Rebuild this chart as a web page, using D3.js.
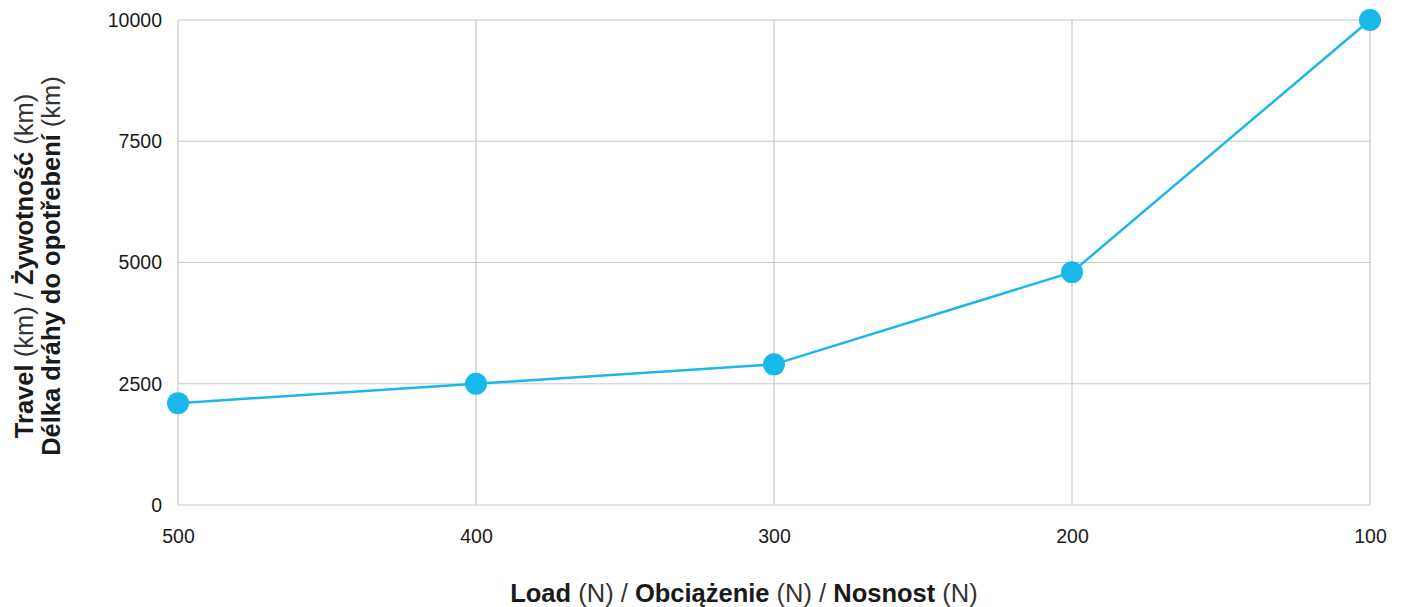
<!DOCTYPE html>
<html>
<head>
<meta charset="utf-8">
<script src="https://cdn.jsdelivr.net/npm/d3@7"></script>
<style>
  body { margin: 0; background: #fff; }
  svg { font-family: "Liberation Sans", Arial, sans-serif; }
</style>
</head>
<body>
<svg id="chart" width="1403" height="607"></svg>
<script>
// dane
const loads = ["500", "400", "300", "200", "100"];
const travel = [2100, 2500, 2900, 4800, 10000];
const yTicks = [0, 2500, 5000, 7500, 10000];

const W = 1403, H = 607;
const margin = { top: 20, right: 33, bottom: 102, left: 178 };
const innerW = W - margin.left - margin.right;
const innerH = H - margin.top - margin.bottom;

const svg = d3.select("#chart");
const g = svg.append("g").attr("transform", `translate(${margin.left},${margin.top})`);

const x = d3.scalePoint().domain(loads).range([0, innerW]);
const y = d3.scaleLinear().domain([0, 10000]).range([innerH, 0]);

// siatka
g.append("g")
  .selectAll("line").data(yTicks).enter().append("line")
  .attr("x1", 0).attr("x2", innerW)
  .attr("y1", d => y(d)).attr("y2", d => y(d))
  .attr("stroke", "#c8c8c8").attr("stroke-width", 1.2);

g.append("g")
  .selectAll("line").data(loads).enter().append("line")
  .attr("x1", d => x(d)).attr("x2", d => x(d))
  .attr("y1", 0).attr("y2", innerH)
  .attr("stroke", "#c8c8c8").attr("stroke-width", 1.2);

// osie
const xAxis = g.append("g")
  .attr("transform", `translate(0,${innerH})`)
  .call(d3.axisBottom(x).tickSize(0).tickPadding(24));
xAxis.select(".domain").remove();
xAxis.selectAll("text").attr("font-size", 19.5).attr("fill", "#1a1a1a");

const yAxis = g.append("g")
  .call(d3.axisLeft(y).tickValues(yTicks).tickSize(0).tickPadding(16).tickFormat(d3.format("d")));
yAxis.select(".domain").remove();
yAxis.selectAll("text").attr("font-size", 19.5).attr("fill", "#1a1a1a");

// linia
const line = d3.line().x((d, i) => x(loads[i])).y(d => y(d));
g.append("path")
  .datum(travel)
  .attr("fill", "none")
  .attr("stroke", "#1ab8ea")
  .attr("stroke-width", 2.5)
  .attr("d", line);

g.selectAll(".dot").data(travel).enter().append("circle")
  .attr("class", "dot")
  .attr("cx", (d, i) => x(loads[i]))
  .attr("cy", d => y(d))
  .attr("r", 11)
  .attr("fill", "#1ab8ea");

// tytuły osi
function richText(sel, parts) {
  parts.forEach(p => {
    sel.append("tspan")
      .attr("font-weight", p[1] ? "bold" : "normal")
      .attr("fill", p[1] ? "#1a1a1a" : "#333")
      .text(p[0]);
  });
}

const xt = svg.append("text")
  .attr("x", 744)
  .attr("y", 602)
  .attr("text-anchor", "middle")
  .attr("font-size", 25.5);
richText(xt, [["Load", 1], [" (N) / ", 0], ["Obciążenie", 1], [" (N) / ", 0], ["Nosnost", 1], [" (N)", 0]]);

const yt = svg.append("g").attr("transform", `translate(0,266) rotate(-90)`);
const yt1 = yt.append("text").attr("x", 0).attr("y", 33).attr("text-anchor", "middle").attr("font-size", 25.5);
richText(yt1, [["Travel", 1], [" (km) / ", 0], ["Żywotność", 1], [" (km)", 0]]);
const yt2 = yt.append("text").attr("x", 0).attr("y", 60).attr("text-anchor", "middle").attr("font-size", 25.5);
richText(yt2, [["Délka dráhy do opotřebení", 1], [" (km)", 0]]);
</script>
</body>
</html>
